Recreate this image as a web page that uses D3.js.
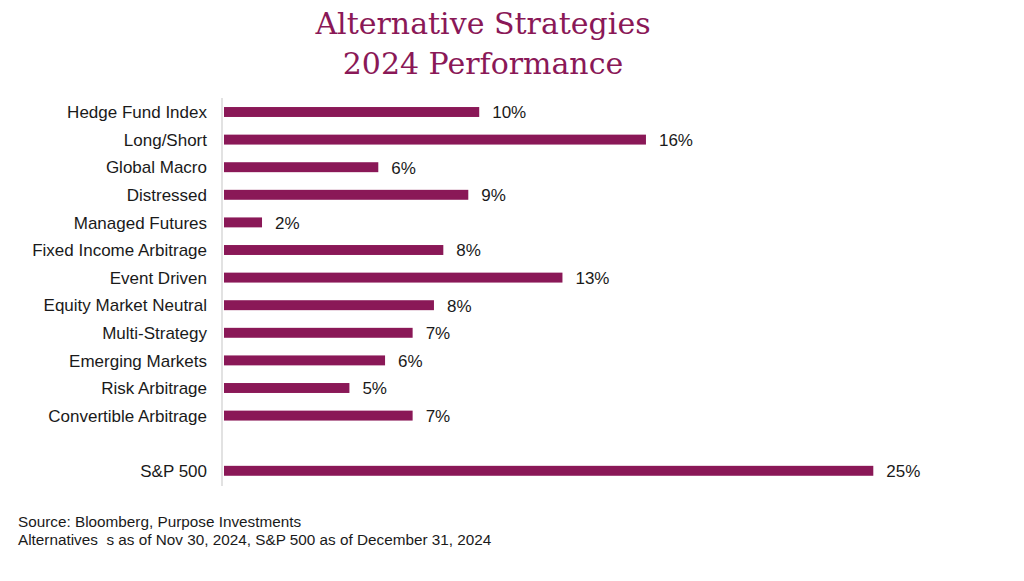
<!DOCTYPE html>
<html><head><meta charset="utf-8">
<script src="https://cdn.jsdelivr.net/npm/d3@7"></script>
<style>body{margin:0;background:#fff}svg{display:block}</style>
</head><body>
<script>
const categories = ["Hedge Fund Index","Long/Short","Global Macro","Distressed","Managed Futures","Fixed Income Arbitrage","Event Driven","Equity Market Neutral","Multi-Strategy","Emerging Markets","Risk Arbitrage","Convertible Arbitrage","","S&P 500"];
const values = [9.85,16.26,5.97,9.43,1.50,8.47,13.05,8.11,7.29,6.23,4.86,7.29,null,25.0];
const titleLines = ["Alternative Strategies","2024 Performance"];
const footnotes = ["Source: Bloomberg, Purpose Investments","Alternatives  s as of Nov 30, 2024, S&P 500 as of December 31, 2024"];

const W=1024,H=581, color="#8a1857";
const svg=d3.select("body").append("svg").attr("width",W).attr("height",H);
const x0=223;
const x=d3.scaleLinear().domain([0,25]).range([x0,x0+650.3]);
const y=d3.scaleBand().domain(categories.map((c,i)=>i)).range([98.2,484.6]).paddingInner(0.64).paddingOuter(0.32);

svg.selectAll("text.title").data(titleLines).enter().append("text")
  .attr("x",483).attr("y",(d,i)=>34+i*39.5).attr("text-anchor","middle")
  .attr("font-family","'DejaVu Serif', 'Liberation Serif', serif").attr("font-size",30).attr("fill",color).text(d=>d);

svg.append("line").attr("x1",x0-1).attr("x2",x0-1).attr("y1",98).attr("y2",486).attr("stroke","#d9d9d9").attr("stroke-width",1.5);

const data=categories.map((c,i)=>({c,i,v:values[i]}));
svg.selectAll("text.cat").data(data).enter().append("text")
  .attr("x",207).attr("y",d=>y(d.i)+y.bandwidth()/2).attr("dy","0.36em").attr("text-anchor","end")
  .attr("font-family","'Liberation Sans', Arial, sans-serif").attr("font-size",17).attr("fill","#1a1a1a").text(d=>d.c);

const bd=data.filter(d=>d.v!=null);
svg.selectAll("rect.bar").data(bd).enter().append("rect")
  .attr("x",x(0)+1).attr("y",d=>y(d.i)).attr("height",y.bandwidth()).attr("width",d=>x(d.v)-x(0)-1).attr("fill",color);
svg.selectAll("text.val").data(bd).enter().append("text")
  .attr("x",d=>x(d.v)+13).attr("y",d=>y(d.i)+y.bandwidth()/2).attr("dy","0.38em")
  .attr("font-family","'Liberation Sans', Arial, sans-serif").attr("font-size",17).attr("fill","#1a1a1a").text(d=>Math.round(d.v)+"%");

svg.selectAll("text.foot").data(footnotes).enter().append("text")
  .attr("x",18).attr("y",(d,i)=>527+i*18).attr("font-family","'Liberation Sans', Arial, sans-serif").attr("font-size",15.3).attr("fill","#1a1a1a")
  .attr("xml:space","preserve").style("white-space","pre").text(d=>d);
</script>
</body></html>
